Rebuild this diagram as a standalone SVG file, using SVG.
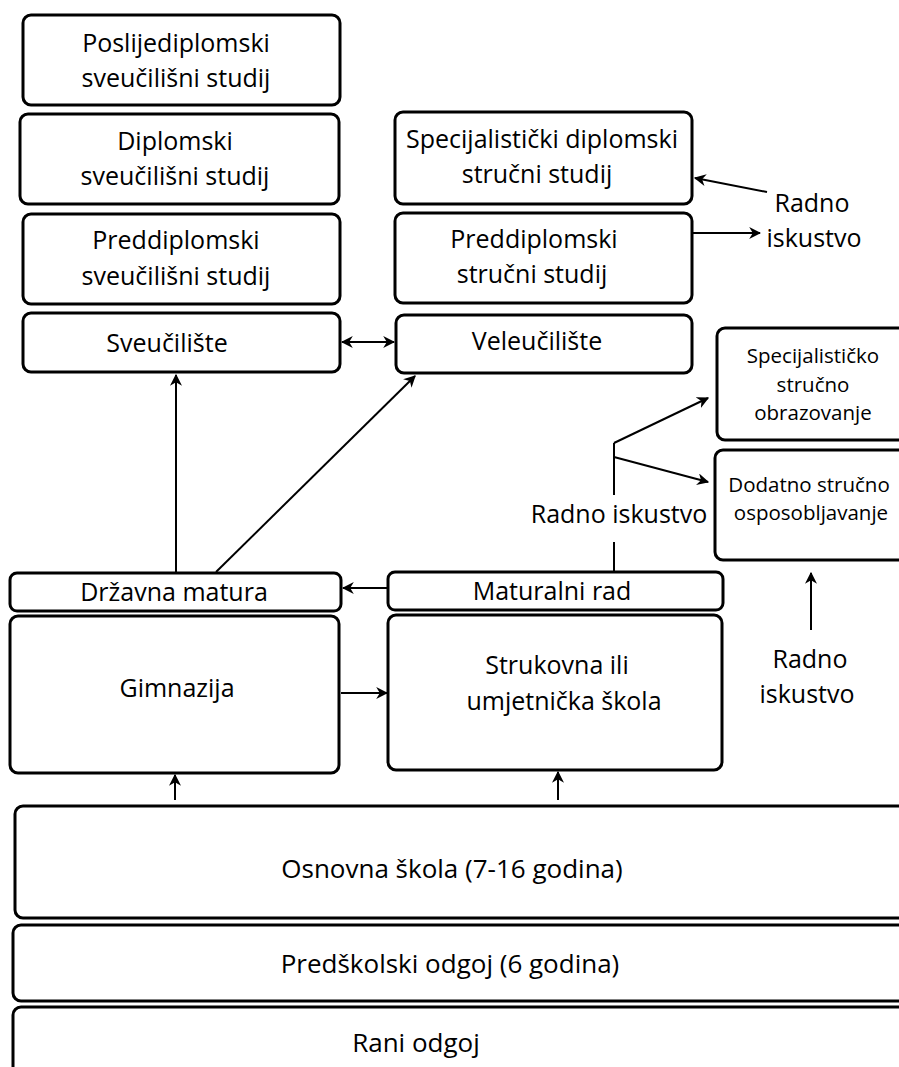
<svg xmlns="http://www.w3.org/2000/svg" width="899" height="1067" viewBox="0 0 899 1067">
<style>
.box{fill:#fff;stroke:#000;stroke-width:3}
.t{font-family:"Open Sans","Liberation Sans",sans-serif;font-size:25px;fill:#000;text-anchor:middle}
.s{font-size:20.5px}
.b{font-size:26px}
.c line{stroke:#000;stroke-width:2;fill:none}
</style>
<defs>
<marker id="ah" viewBox="0 0 10 10" refX="9" refY="5" markerWidth="12" markerHeight="12" markerUnits="userSpaceOnUse" orient="auto-start-reverse">
<path d="M0,0 L10,5 L0,10 L3,5 z" fill="#000"/>
</marker>
</defs>
<rect x="0" y="0" width="899" height="1067" fill="#fff"/>

<g id="poslijediplomski">
<rect class="box" x="23" y="15" width="317" height="90" rx="8"/>
<text class="t" x="176" y="52">Poslijediplomski</text>
<text class="t" x="176" y="87">sveučilišni studij</text>
</g>
<g id="diplomski">
<rect class="box" x="20" y="114" width="319" height="90" rx="8"/>
<text class="t" x="175" y="150">Diplomski</text>
<text class="t" x="175" y="185">sveučilišni studij</text>
</g>
<g id="preddiplomski-sveuc">
<rect class="box" x="23" y="214" width="317" height="90" rx="8"/>
<text class="t" x="176" y="249">Preddiplomski</text>
<text class="t" x="176" y="285">sveučilišni studij</text>
</g>
<g id="sveuciliste">
<rect class="box" x="23" y="313" width="317" height="59" rx="8"/>
<text class="t" x="167" y="352">Sveučilište</text>
</g>

<g id="specijalisticki-diplomski">
<rect class="box" x="395" y="112" width="297" height="92" rx="8"/>
<text class="t" x="542" y="148">Specijalistički diplomski</text>
<text class="t" x="537" y="183">stručni studij</text>
</g>
<g id="preddiplomski-strucni">
<rect class="box" x="395" y="213" width="297" height="90" rx="8"/>
<text class="t" x="534" y="248">Preddiplomski</text>
<text class="t" x="532" y="283">stručni studij</text>
</g>
<g id="veleuciliste">
<rect class="box" x="396" y="315" width="296" height="58" rx="8"/>
<text class="t" x="537" y="350">Veleučilište</text>
</g>

<g id="radno-top">
<text class="t" x="812" y="212">Radno</text>
<text class="t" x="814" y="247">iskustvo</text>
</g>

<g id="specijalisticko-strucno">
<rect class="box" x="717" y="328" width="190" height="112" rx="8"/>
<text class="t s" x="813" y="363">Specijalističko</text>
<text class="t s" x="813" y="392">stručno</text>
<text class="t s" x="813" y="420">obrazovanje</text>
</g>
<g id="dodatno-strucno">
<rect class="box" x="715" y="450" width="192" height="110" rx="8"/>
<text class="t s" x="809" y="492">Dodatno stručno</text>
<text class="t s" x="811" y="520">osposobljavanje</text>
</g>

<g id="radno-mid">
<text class="t" x="619" y="523">Radno iskustvo</text>
</g>

<g id="drzavna-matura">
<rect class="box" x="10" y="573" width="331" height="38" rx="7"/>
<text class="t" x="174" y="601">Državna matura</text>
</g>
<g id="gimnazija">
<rect class="box" x="10" y="616" width="329" height="157" rx="8"/>
<text class="t" x="177" y="697">Gimnazija</text>
</g>
<g id="maturalni-rad">
<rect class="box" x="388" y="572" width="335" height="38" rx="7"/>
<text class="t" x="552" y="600">Maturalni rad</text>
</g>
<g id="strukovna">
<rect class="box" x="388" y="615" width="334" height="155" rx="8"/>
<text class="t" x="557" y="674">Strukovna ili</text>
<text class="t" x="564" y="710">umjetnička škola</text>
</g>
<g id="radno-bottom">
<text class="t" x="810" y="668">Radno</text>
<text class="t" x="807" y="703">iskustvo</text>
</g>

<g id="osnovna">
<rect class="box" x="15" y="806" width="900" height="112" rx="8"/>
<text class="t b" x="452" y="878">Osnovna škola (7-16 godina)</text>
</g>
<g id="predskolski">
<rect class="box" x="13" y="925" width="900" height="76" rx="8"/>
<text class="t b" x="450" y="973">Predškolski odgoj (6 godina)</text>
</g>
<g id="rani">
<rect class="box" x="13" y="1007" width="900" height="80" rx="8"/>
<text class="t b" x="416" y="1052">Rani odgoj</text>
</g>

<g id="connectors" class="c">
<line x1="342" y1="342" x2="394" y2="342" marker-start="url(#ah)" marker-end="url(#ah)"/>
<line x1="767" y1="192" x2="695" y2="178" marker-end="url(#ah)"/>
<line x1="693" y1="233" x2="760" y2="233" marker-end="url(#ah)"/>
<line x1="176" y1="572" x2="176" y2="375" marker-end="url(#ah)"/>
<line x1="216" y1="572" x2="415" y2="376" marker-end="url(#ah)"/>
<line x1="614" y1="571" x2="614" y2="542"/>
<line x1="614" y1="495" x2="614" y2="443"/>
<line x1="614" y1="443" x2="708" y2="398" marker-end="url(#ah)"/>
<line x1="614" y1="457" x2="708" y2="482" marker-end="url(#ah)"/>
<line x1="811" y1="630" x2="811" y2="573" marker-end="url(#ah)"/>
<line x1="388" y1="588" x2="343" y2="588" marker-end="url(#ah)"/>
<line x1="341" y1="693" x2="387" y2="693" marker-end="url(#ah)"/>
<line x1="175" y1="800" x2="175" y2="775" marker-end="url(#ah)"/>
<line x1="558" y1="800" x2="558" y2="772" marker-end="url(#ah)"/>
</g>
</svg>
